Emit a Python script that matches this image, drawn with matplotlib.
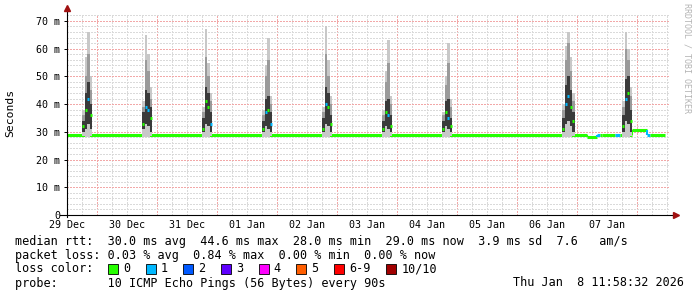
import matplotlib
matplotlib.use("Agg")
import matplotlib.pyplot as plt
from matplotlib.patches import Rectangle

W, H = 697, 297

# x axis is in hours after 29 Dec 00:00
DAY_LABELS = ["29 Dec", "30 Dec", "31 Dec", "01 Jan", "02 Jan",
              "03 Jan", "04 Jan", "05 Jan", "06 Jan", "07 Jan"]
Y_TICKS = [0, 10, 20, 30, 40, 50, 60, 70]
Y_LABELS = ["0", "10 m", "20 m", "30 m", "40 m", "50 m", "60 m", "70 m"]

# morning smoke spikes, one hourly column per entry (ms)
SPIKE_START = [6, 30, 54, 78, 102, 126, 150, 198, 222]
SMOKE_MIN = [[28.5, 28, 28, 28.5], [28, 28, 28, 28.5], [28, 28, 28, 28.5],
             [28, 28, 28, 28.5], [28, 28, 28, 28.5], [28, 28, 28, 28.5],
             [28, 28, 28, 28.5], [28, 28, 28, 28, 28.5], [28, 28, 28, 28.5]]
SMOKE_Q25 = [[30, 31, 33, 31], [31, 33, 32, 30], [30, 33, 32, 30],
             [30, 32, 31, 30], [30, 33, 32, 30], [30, 32, 31, 30],
             [30, 32, 31, 30], [30, 33, 34, 32, 30], [30, 34, 33, 30]]
SMOKE_MED = [[32, 38, 42, 36], [33, 39, 38, 35], [31, 41, 39, 33],
             [31, 37, 38, 33], [31, 40, 39, 33], [31, 37, 36, 32],
             [31, 37, 35, 32], [31, 40, 43, 39, 34], [32, 42, 44, 34]]
SMOKE_Q75 = [[34, 44, 48, 40], [37, 45, 44, 39], [35, 46, 44, 37],
             [34, 42, 43, 37], [35, 46, 44, 36], [34, 41, 42, 36],
             [34, 41, 42, 35], [35, 47, 50, 45, 37], [36, 49, 50, 38]]
SMOKE_Q90 = [[36, 50, 58, 45], [39, 56, 52, 42], [37, 57, 50, 41],
             [36, 50, 56, 40], [37, 58, 50, 40], [36, 48, 55, 40],
             [36, 47, 55, 39], [38, 56, 62, 52, 41], [39, 60, 56, 43]]
SMOKE_MAX = [[38, 57, 66, 50], [41, 65, 58, 46], [39, 67, 55, 44],
             [38, 54, 64, 43], [39, 68, 56, 43], [38, 52, 63, 43],
             [37, 50, 62, 42], [40, 61, 66, 57, 44], [41, 66, 60, 46]]
SPIKE_LOSS = [[0, 0, 1, 0], [0, 1, 1, 0], [0, 0, 0, 1], [0, 1, 0, 1],
              [0, 1, 0, 0], [0, 0, 1, 0], [0, 0, 1, 0], [0, 1, 1, 0, 0],
              [0, 1, 0, 0]]

# median line between spikes: segment edges (hours), values, loss
BASE_EDGES = [0, 208, 212, 213, 214, 219, 221, 226, 232, 233, 239.2]
BASE_VALUES = [29.0, 28.0, 29.0, 29.0, 29.0, 29.0, 29.0, 30.8, 29.0, 29.0]
BASE_LOSS = [0, 0, 1, 0, 0, 1, 0, 0, 1, 0]

LOSS_LABELS = ["0", "1", "2", "3", "4", "5", "6-9", "10/10"]
LOSS_COLORS = ["#26ff00", "#00b8ff", "#0059ff", "#5e00ff", "#ff00ff",
               "#ff5e00", "#ff0000", "#a10000"]

ROW1 = ("median rtt:  30.0 ms avg  44.6 ms max  28.0 ms min  "
        "29.0 ms now  3.9 ms sd  7.6   am/s")
ROW2 = "packet loss: 0.03 % avg  0.84 % max  0.00 % min  0.00 % now"
ROW3 = "loss color:"
ROW4 = "probe:       10 ICMP Echo Pings (56 Bytes) every 90s"
STAMP = "Thu Jan  8 11:58:32 2026"

MONO = "DejaVu Sans Mono"


def fx(px):
    return px / W


def fy(py):
    return 1 - py / H


fig = plt.figure(figsize=(W / 100, H / 100), dpi=100, facecolor="white")
ax = fig.add_axes([fx(67), fy(215), fx(669) - fx(67), fy(14) - fy(215)])
ax.set_xlim(0, 240.8)
ax.set_ylim(0, 72.5)
for s in ax.spines.values():
    s.set_visible(False)

# grid: dotted, minor grey, major pinkish red
dot = (0, (1.4, 1.4))
for h in range(0, 241, 6):
    major = (h % 24) == 12
    ax.axvline(h, color="#f2a8a8" if major else "#dadada",
               lw=0.72, ls=dot, zorder=0, antialiased=False)
for v in range(2, 73, 2):
    major = v % 10 == 0
    ax.axhline(v, color="#f2a8a8" if major else "#dadada",
               lw=0.72, ls=dot, zorder=0, antialiased=False)

# baseline median
for i, val in enumerate(BASE_VALUES):
    c = LOSS_COLORS[BASE_LOSS[i]]
    ax.hlines(val, BASE_EDGES[i], BASE_EDGES[i + 1], color=c, lw=2.2,
              zorder=2)
    if i > 0 and BASE_VALUES[i - 1] != val:
        ax.vlines(BASE_EDGES[i], BASE_VALUES[i - 1], val, color=c, lw=1.5,
                  zorder=2)

# smoke
for k, t0 in enumerate(SPIKE_START):
    for j in range(len(SMOKE_MED[k])):
        x = t0 + j
        lo, q25, med = SMOKE_MIN[k][j], SMOKE_Q25[k][j], SMOKE_MED[k][j]
        q75, q90, hi = SMOKE_Q75[k][j], SMOKE_Q90[k][j], SMOKE_MAX[k][j]
        ax.bar(x, hi - lo, bottom=lo, width=1, align="edge",
               color="#c8c8c8", lw=0, zorder=3)
        ax.bar(x, q90 - q25, bottom=q25, width=1, align="edge",
               color="#9a9a9a", lw=0, zorder=3)
        ax.bar(x, q75 - q25, bottom=q25, width=1, align="edge",
               color="#3a3a3a", lw=0, zorder=3)
        ax.hlines(med, x + 0.1, x + 0.9,
                  color=LOSS_COLORS[SPIKE_LOSS[k][j]], lw=2.2, zorder=4)

# ticks
ax.set_xticks([24 * i for i in range(len(DAY_LABELS))])
ax.set_xticklabels(DAY_LABELS, fontfamily=MONO, fontsize=7.2)
ax.set_yticks(Y_TICKS)
ax.set_yticklabels(Y_LABELS, fontfamily=MONO, fontsize=7.2)
ax.tick_params(axis="x", length=0, pad=3.5)
ax.tick_params(axis="y", length=2.5, width=0.7, pad=2.5)

# axes with arrows
ax.plot([-3, 243.5], [0, 0], color="black", lw=0.8, clip_on=False, zorder=5)
ax.plot([0, 0], [-0.9, 74.5], color="black", lw=0.8, clip_on=False, zorder=5)
ax.plot([243.5], [0], marker=">", color="#a01010", ms=4, clip_on=False,
        zorder=6)
ax.plot([0], [74.5], marker="^", color="#a01010", ms=4, clip_on=False,
        zorder=6)

fig.text(fx(10), fy(113), "Seconds", rotation=90, ha="center", va="center",
         fontfamily=MONO, fontsize=8.2)
fig.text(fx(687), fy(3), "RRDTOOL / TOBI OETIKER", rotation=270,
         ha="center", va="top", fontfamily=MONO, fontsize=6,
         color="#b4b4b4")

# legend
for text, py in [(ROW1, 241), (ROW2, 255), (ROW3, 269), (ROW4, 283)]:
    fig.text(fx(15), fy(py), text, ha="left", va="center",
             fontfamily=MONO, fontsize=8.5)
fig.text(fx(513), fy(283), STAMP, ha="left", va="center",
         fontfamily=MONO, fontsize=8.5)

bx = 108
for lab, col in zip(LOSS_LABELS, LOSS_COLORS):
    fig.patches.append(Rectangle((fx(bx), fy(274)), 10 / W, 10 / H,
                                 transform=fig.transFigure, facecolor=col,
                                 edgecolor="black", lw=0.6))
    fig.text(fx(bx + 15), fy(269), lab, ha="left", va="center",
             fontfamily=MONO, fontsize=8.5)
    bx += 30.55 + len(lab) * 7.15

fig.savefig("out.png", dpi=100)
